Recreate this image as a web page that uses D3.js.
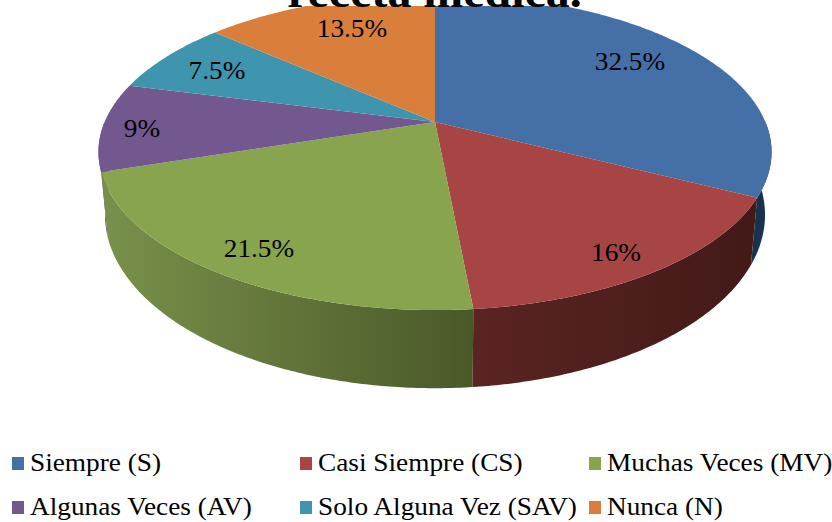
<!DOCTYPE html>
<html>
<head>
<meta charset="utf-8">
<script src="https://cdn.jsdelivr.net/npm/d3@7"></script>
<style>
  body { margin: 0; background: #fff; }
  svg { display: block; }
  text { font-family: "Liberation Serif", serif; fill: #000; }
</style>
</head>
<body>
<div id="chart"></div>
<script>
(function () {

  var categories = ['Siempre (S)', 'Casi Siempre (CS)', 'Muchas Veces (MV)', 'Algunas Veces (AV)', 'Solo Alguna Vez (SAV)', 'Nunca (N)']
  var values = [32.5, 16, 21.5, 9, 7.5, 13.5]
  var valueLabels = ['32.5%', '16%', '21.5%', '9%', '7.5%', '13.5%']
  var colors = ['#4570a7', '#a64543', '#88a44e', '#73588f', '#4095ae', '#d97f3b']

  var width = 832,
      height = 522

  var svg = d3.select('#chart').append('svg')
    .attr('width', width)
    .attr('height', height)

  var colorScale = d3.scaleOrdinal().domain(categories).range(colors)

  var pie = d3.pie().sort(null).value(function (d) { return d })
  var slices = pie(values)

  // the pie is drawn in perspective, so the centre is above the middle of the ellipse
  var topFace = { cx: 435, cy: 122, rx: 330.4, ry: 152.3, k: 0.19 }
  var bottomFace = { cx: 435, cy: 182, rx: 324, ry: 167, k: 0.19 }

  function project(face, angle) {
    var u = Math.sin(angle),
        v = -Math.cos(angle),
        w = 1 - face.k * v
    return [face.cx + face.rx * u / w, face.cy + face.ry * v / w]
  }

  function arcPoints(face, a0, a1) {
    var n = Math.max(2, Math.ceil(Math.abs(a1 - a0) / 0.01))
    return d3.range(n + 1).map(function (i) {
      return project(face, a0 + (a1 - a0) * i / n)
    })
  }

  var line = d3.line()

  // gradients for the side wall
  var defs = svg.append('defs')
  var wallFills = [
    { id: 'wall-green', x1: 105, x2: 473, stops: ['#78914a', '#4a5828'] },
    { id: 'wall-red', x1: 473, x2: 750, stops: ['#5a2422', '#431a18'] }
  ]
  wallFills.forEach(function (g) {
    var grad = defs.append('linearGradient')
      .attr('id', g.id)
      .attr('gradientUnits', 'userSpaceOnUse')
      .attr('x1', g.x1).attr('x2', g.x2)
      .attr('y1', 0).attr('y2', 0)
    grad.append('stop').attr('offset', 0).attr('stop-color', g.stops[0])
    grad.append('stop').attr('offset', 1).attr('stop-color', g.stops[1])
  })

  // visible walls: blue at the right, purple sliver at the left, green and red in front
  var walls = [
    { a0: Math.PI / 2, a1: slices[0].endAngle, fill: '#17324f' },
    { a0: slices[2].endAngle, a1: Math.PI * 1.5, fill: '#5c4a78' },
    { a0: slices[2].startAngle, a1: slices[2].endAngle, fill: 'url(#wall-green)' },
    { a0: slices[1].startAngle, a1: slices[1].endAngle, fill: 'url(#wall-red)' }
  ]

  svg.selectAll('.wall')
    .data(walls)
    .enter().append('path')
    .attr('class', 'wall')
    .attr('fill', function (d) { return d.fill })
    .attr('d', function (d) {
      var pts = arcPoints(topFace, d.a0, d.a1).concat(arcPoints(bottomFace, d.a1, d.a0))
      return line(pts) + 'Z'
    })

  svg.selectAll('.slice')
    .data(slices)
    .enter().append('path')
    .attr('class', 'slice')
    .attr('fill', function (d, i) { return colorScale(categories[i]) })
    .attr('d', function (d) {
      var pts = arcPoints(topFace, d.startAngle, d.endAngle)
      pts.push([topFace.cx, topFace.cy])
      return line(pts) + 'Z'
    })

  // title has a white box that hides the very top of the pie, and is cut off by the picture
  svg.append('rect')
    .attr('x', 0)
    .attr('y', 0)
    .attr('width', width)
    .attr('height', 6)
    .attr('fill', '#fff')

  svg.append('text')
    .attr('transform', 'translate(434.5,7) scale(1.09,1)')
    .attr('text-anchor', 'middle')
    .attr('font-weight', 'bold')
    .attr('font-size', 44)
    .text('receta médica.')

  // data labels, glyphs in the reference are stretched sideways
  var labelPos = [[630, 70], [616, 261], [259, 257], [142, 137], [217, 79], [352, 37]]

  svg.selectAll('.value-label')
    .data(valueLabels)
    .enter().append('text')
    .attr('class', 'value-label')
    .attr('text-anchor', 'middle')
    .attr('font-size', 26)
    .attr('transform', function (d, i) {
      return 'translate(' + labelPos[i][0] + ',' + labelPos[i][1] + ') scale(1.05,1)'
    })
    .text(function (d) { return d })

  // legend, two rows of three
  var legendX = d3.scaleOrdinal().domain([0, 1, 2]).range([12, 300, 589])
  var legendY = d3.scaleOrdinal().domain([0, 1]).range([464, 508])

  var legend = svg.selectAll('.legend')
    .data(categories)
    .enter().append('g')
    .attr('class', 'legend')
    .attr('transform', function (d, i) {
      return 'translate(' + legendX(i % 3) + ',' + legendY(Math.floor(i / 3)) + ')'
    })

  legend.append('rect')
    .attr('x', 0)
    .attr('y', -7)
    .attr('width', 12)
    .attr('height', 13)
    .attr('fill', function (d) { return colorScale(d) })

  legend.append('text')
    .attr('font-size', 26)
    .attr('transform', 'translate(18,7) scale(1.05,1)')
    .text(function (d) { return d })

})()
</script>
</body>
</html>
